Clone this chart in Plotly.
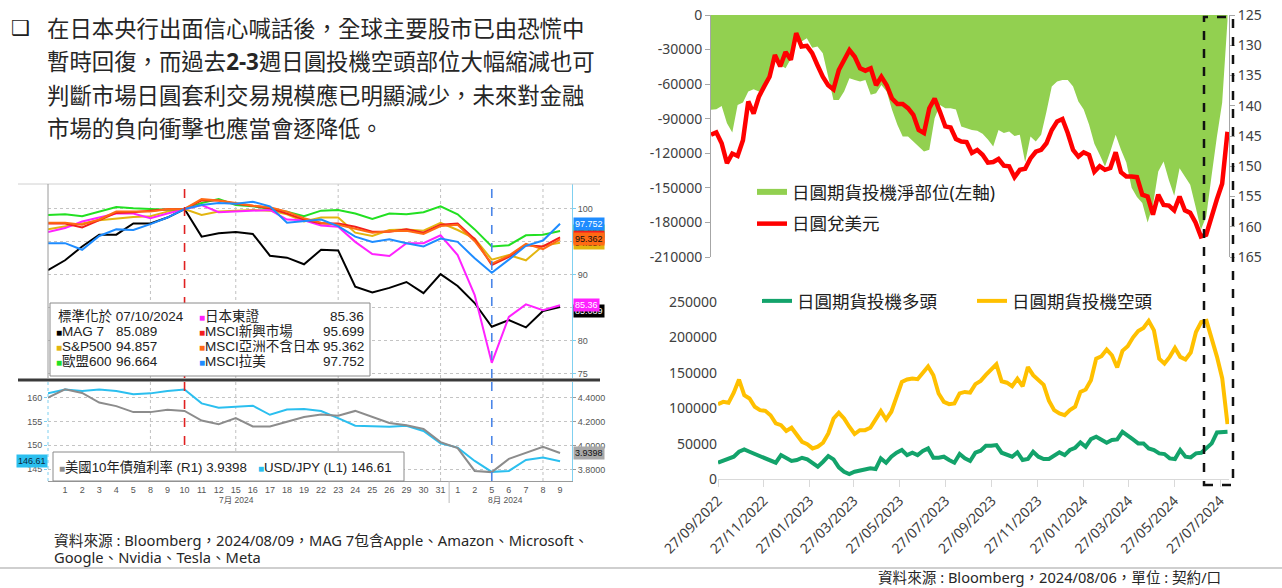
import pandas as pd
import plotly.graph_objects as go

W, H = 1282, 588


# pixel -> paper helpers
def px(x):
    return x / W


def py(y):
    return 1 - y / H


# ---------------- left panel: Bloomberg, normalised to 07/10/2024 ----------------
bbg_days = pd.bdate_range("2024-06-28", "2024-08-09")
bbg_idx = list(range(len(bbg_days)))

mag7 = [90.7, 92.2, 94.3, 96.1, 96.1, 97.8, 97.8, 98.7, 100.0, 95.8,
        96.3, 96.5, 96.2, 92.9, 92.6, 91.6, 93.8, 93.7, 88.2, 87.3,
        88.0, 88.9, 87.2, 90.1, 88.3, 85.7, 82.1, 83.1, 82.0, 84.5, 85.089]
sp500 = [96.9, 97.3, 97.8, 98.3, 98.6, 98.8, 98.9, 99.6, 100.0, 99.1,
         99.6, 99.75, 99.85, 99.75, 99.2, 98.1, 98.7, 98.7, 96.4, 95.9,
         96.8, 96.9, 96.7, 97.9, 96.8, 95.5, 92.3, 93.0, 92.2, 94.4, 94.857]
stoxx600 = [99.1, 99.2, 98.9, 99.6, 100.3, 100.1, 100.0, 99.9, 100.0, 100.9,
            101.5, 100.6, 100.4, 100.0, 99.6, 98.9, 99.75, 99.85, 99.3, 98.5,
            99.3, 99.2, 99.5, 100.4, 99.2, 96.9, 94.3, 94.5, 96.0, 96.1, 96.664]
topix = [96.5, 97.1, 98.1, 98.7, 99.3, 99.3, 98.6, 99.3, 100.0, 100.6,
         99.5, 99.6, 99.7, 99.85, 98.4, 98.3, 97.5, 97.3, 95.0, 93.15,
         92.85, 94.8, 94.8, 96.0, 93.0, 86.9, 76.6, 83.6, 85.5, 84.6, 85.36]
msci_em = [97.8, 97.8, 97.2, 98.3, 99.4, 99.5, 99.75, 99.95, 100.0, 101.3,
           101.3, 100.8, 100.5, 100.1, 99.3, 98.4, 97.8, 97.8, 97.3, 96.55,
           96.55, 96.9, 96.4, 97.6, 97.8, 95.4, 91.5, 92.7, 94.5, 94.3, 95.699]
msci_asia_xjp = [97.9, 97.9, 97.6, 98.4, 99.6, 99.6, 99.6, 99.95, 100.0, 101.5,
                 101.3, 100.9, 100.5, 100.25, 99.6, 98.6, 97.9, 97.6, 97.0, 96.4,
                 96.6, 96.7, 96.2, 97.4, 97.6, 95.1, 91.7, 92.9, 94.7, 93.9, 95.362]
msci_latam = [94.8, 94.8, 93.8, 95.9, 96.9, 96.8, 97.7, 98.7, 100.0, 100.6,
              100.9, 100.8, 101.1, 100.4, 97.9, 98.2, 98.4, 97.4, 95.8, 95.0,
              95.4, 94.8, 94.3, 95.5, 95.0, 92.5, 90.3, 92.3, 94.4, 95.2, 97.752]
ust10y = [4.40, 4.47, 4.44, 4.36, 4.33, 4.28, 4.28, 4.30, 4.29, 4.21,
          4.18, 4.23, 4.16, 4.16, 4.20, 4.24, 4.26, 4.25, 4.29, 4.24,
          4.19, 4.17, 4.14, 4.03, 3.98, 3.79, 3.78, 3.89, 3.94, 3.99, 3.9398]
usdjpy_daily = [160.9, 161.7, 161.4, 161.7, 161.4, 160.7, 160.9, 161.4, 161.7, 158.8,
                157.9, 158.1, 158.3, 156.4, 157.5, 157.6, 157.2, 155.7, 154.1, 154.0,
                153.9, 154.1, 153.0, 150.4, 149.5, 146.7, 144.4, 144.6, 146.9, 147.4, 146.61]

# ---------------- right panels: CFTC yen speculative positions (weekly) ----------------
cftc_dates = pd.date_range("2022-09-27", "2024-08-06", freq="7D")

net_pos = [-82300, -81800, -78900, -93900, -102000, -78000, -76000, -66400, -64400, -66400,
           -62000, -55500, -40000, -43300, -46200, -38000, -23100, -23100, -20200, -28500,
           -27400, -33200, -53400, -73700, -73700, -66400, -54900, -56300, -57800, -56300,
           -69300, -67900, -60700, -66400, -82300, -95300, -105400, -105400, -109800, -114100,
           -118500, -117000, -89600, -78000, -80900, -81000, -82000, -96800, -98200, -99700,
           -100500, -103000, -108000, -114100, -99700, -102500, -101100, -104900, -104000, -127700,
           -105400, -109800, -104000, -84000, -62000, -57800, -56300, -56300, -62000, -75000,
           -82000, -95000, -111800, -121300, -131400, -118400, -104000, -117000, -128000, -150000,
           -158000, -163200, -180000, -165000, -135800, -127100, -143400, -156800, -132900, -140100,
           -147300, -166100, -186300, -175000, -140000, -106000, -76200, -5000]
usdjpy_weekly = [144.8, 144.4, 146.2, 149.5, 147.9, 148.3, 145.7, 139.3, 141.3, 138.5,
                 136.8, 135.2, 131.6, 133.5, 131.1, 132.4, 128.0, 130.2, 130.1, 131.3,
                 133.3, 135.2, 136.6, 137.3, 134.1, 132.4, 130.8, 131.9, 133.8, 134.2,
                 133.8, 136.6, 135.2, 136.6, 138.8, 139.7, 139.7, 140.4, 141.5, 144.0,
                 144.5, 140.4, 138.8, 141.0, 143.4, 143.6, 145.5, 145.9, 146.0, 147.8,
                 147.3, 148.1, 149.4, 149.3, 148.8, 149.9, 150.0, 151.8, 150.6, 150.4,
                 148.7, 147.6, 147.3, 146.2, 144.0, 142.6, 142.2, 144.5, 147.3, 148.4,
                 147.7, 148.1, 150.9, 150.0, 150.6, 150.3, 147.7, 151.0, 151.7, 151.7,
                 151.8, 154.7, 155.0, 158.0, 154.7, 156.4, 156.5, 157.3, 155.0, 157.3,
                 157.7, 159.3, 161.6, 161.3, 158.2, 155.5, 152.9, 144.3]
long_pos = [23000, 26000, 30000, 31500, 38500, 41800, 38500, 35250, 32400, 29100,
            25850, 23000, 33800, 29100, 25400, 26800, 30000, 27700, 22100, 17400,
            24400, 32400, 27700, 16500, 10300, 7000, 10300, 11750, 12700, 15000,
            14100, 29100, 23000, 31500, 37100, 40900, 33800, 37100, 33800, 39500,
            43200, 30000, 30000, 31500, 26800, 23000, 35250, 29100, 25400, 37100,
            40000, 47000, 47000, 47900, 37100, 33800, 31500, 37600, 26800, 28200,
            38500, 31500, 28200, 28200, 32400, 37600, 33800, 40900, 44200, 51700,
            45600, 56400, 59700, 55900, 51200, 55000, 55900, 66700, 62000, 55900,
            50300, 50300, 43200, 40900, 36200, 35250, 29100, 28200, 40900, 31500,
            30500, 36200, 37100, 43200, 50300, 65800, 65800, 66700]
short_pos = [105750, 109000, 107600, 122000, 140500, 118400, 113700, 102000, 97300, 96300,
             90000, 78500, 76000, 68000, 72400, 62000, 52600, 49300, 43200, 45600,
             51200, 64400, 85500, 93500, 85500, 73800, 63500, 69000, 69000, 72400,
             83200, 95900, 84100, 95000, 116000, 137000, 140500, 142000, 141000, 151000,
             159000, 146600, 120800, 109000, 105750, 106700, 121000, 123000, 122000, 134000,
             138600, 147000, 155000, 162000, 138000, 136000, 131000, 141500, 131000, 158000,
             146600, 140500, 133000, 110500, 97300, 92600, 90200, 97300, 102000, 123000,
             126400, 139600, 170000, 173400, 182800, 174800, 157500, 181000, 187500, 199800,
             209000, 213400, 223300, 210000, 170000, 163000, 172500, 185000, 172500, 168700,
             178600, 207700, 221800, 223300, 198300, 172500, 142000, 77500]

net_ticks = [0, -30000, -60000, -90000, -120000, -150000, -180000, -210000]
pos_ticks = [0, 50000, 100000, 150000, 200000, 250000]
bbg_ticks = [75, 80, 85, 90, 95, 100]

body_text = [
    "在日本央行出面信心喊話後，全球主要股市已由恐慌中",
    "暫時回復，而過去<b>2-3</b>週日圓投機空頭部位大幅縮減也可",
    "判斷市場日圓套利交易規模應已明顯減少，未來對金融",
    "市場的負向衝擊也應當會逐降低。",
]

CJK = "Noto Sans, Noto Sans CJK TC"
BBG = "Liberation Sans, Noto Sans CJK TC"
bbg_tick = dict(family=BBG, size=9, color="#555555")
xl_tick = dict(family=CJK, size=14, color="#404040")

# label, series, colour
bbg_series = [
    ("MAG 7", mag7, "#000000"),
    ("S&P500", sp500, "#E3B50F"),
    ("歐盟600", stoxx600, "#22E022"),
    ("日本東證", topix, "#FF22FF"),
    ("MSCI新興市場", msci_em, "#F21D1D"),
    ("MSCI亞洲不含日本", msci_asia_xjp, "#FF6A14"),
    ("MSCI拉美", msci_latam, "#1E8CFF"),
]
colors = {name: c for name, _, c in bbg_series}

fig = go.Figure()

for name, vals, color in bbg_series:
    fig.add_trace(go.Scatter(x=bbg_idx, y=vals, mode="lines", name=name,
                             line=dict(color=color, width=2),
                             xaxis="x", yaxis="y", showlegend=False))

fig.add_trace(go.Scatter(x=bbg_idx, y=ust10y, mode="lines", name="美國10年債殖利率",
                         line=dict(color="#8C8C8C", width=2),
                         xaxis="x2", yaxis="y3", showlegend=False))
fig.add_trace(go.Scatter(x=bbg_idx, y=usdjpy_daily, mode="lines", name="USD/JPY",
                         line=dict(color="#2BBFEF", width=2),
                         xaxis="x2", yaxis="y2", showlegend=False))

fig.add_trace(go.Scatter(x=cftc_dates, y=net_pos, mode="none", fill="tozeroy",
                         fillcolor="#92D050", name="日圓期貨投機淨部位(左軸)",
                         xaxis="x3", yaxis="y4", legend="legend", legendgroup="a"))
fig.add_trace(go.Scatter(x=cftc_dates, y=usdjpy_weekly, mode="lines",
                         line=dict(color="#FF0000", width=4.5), name="日圓兌美元",
                         xaxis="x3", yaxis="y5", legend="legend", legendgroup="b"))

fig.add_trace(go.Scatter(x=cftc_dates, y=long_pos, mode="lines",
                         line=dict(color="#13A36B", width=4), name="日圓期貨投機多頭",
                         xaxis="x4", yaxis="y6", legend="legend2"))
fig.add_trace(go.Scatter(x=cftc_dates, y=short_pos, mode="lines",
                         line=dict(color="#FFC000", width=4), name="日圓期貨投機空頭",
                         xaxis="x4", yaxis="y6", legend="legend2"))

# ---------------- shapes ----------------
shapes = []


def hline(y, x0, x1, color, width, dash="solid"):
    shapes.append(dict(type="line", xref="paper", yref="paper", x0=px(x0), x1=px(x1),
                       y0=py(y), y1=py(y), line=dict(color=color, width=width, dash=dash),
                       layer="above"))


def vline(x, y0, y1, color, width, dash="solid"):
    shapes.append(dict(type="line", xref="paper", yref="paper", x0=px(x), x1=px(x),
                       y0=py(y0), y1=py(y1), line=dict(color=color, width=width, dash=dash),
                       layer="above"))


hline(184, 18, 600, "#D0D0D0", 1)
hline(380, 18, 600, "#3A3A3A", 3)
vline(48, 184, 378, "#9A9A9A", 1)
vline(48, 382, 481, "#7FD0F0", 1, "dot")
hline(568, 0, 1282, "#BFBFBF", 1.5)

# bloomberg vertical gridlines and event markers
for i in [6, 11, 17, 23, 29]:
    for xr, yr in [("x", "y domain"), ("x2", "y2 domain")]:
        shapes.append(dict(type="line", xref=xr, yref=yr, x0=i, x1=i, y0=0, y1=1,
                           line=dict(color="#C0C0C0", width=1, dash="dot"), layer="below"))
for i, c in [(8, "#E02020"), (26, "#4A86E8")]:
    for xr, yr in [("x", "y domain"), ("x2", "y2 domain")]:
        shapes.append(dict(type="line", xref=xr, yref=yr, x0=i, x1=i, y0=0, y1=1,
                           line=dict(color=c, width=1.6, dash="dash"), layer="above"))
shapes.append(dict(type="line", xref="x2", yref="paper", x0=23.5, x1=23.5,
                   y0=py(481), y1=py(503), line=dict(color="#BBBBBB", width=1)))

# legend boxes of the bloomberg panel
shapes.append(dict(type="rect", xref="paper", yref="paper", x0=px(50), x1=px(370),
                   y0=py(376), y1=py(303), fillcolor="white",
                   line=dict(color="#8A8A8A", width=1), layer="above"))
shapes.append(dict(type="rect", xref="paper", yref="paper", x0=px(53), x1=px(404),
                   y0=py(481), y1=py(452), fillcolor="white",
                   line=dict(color="#8A8A8A", width=1), layer="above"))

# dashed highlight box (last weeks)
shapes.append(dict(type="rect", xref="paper", yref="paper", x0=px(1204), x1=px(1233),
                   y0=py(485), y1=py(17), line=dict(color="#111111", width=2.5, dash="dash"),
                   fillcolor="rgba(0,0,0,0)", layer="above"))

# ---------------- annotations ----------------
anns = []


def text(x, y, t, size, color="#262626", xanchor="left", family=CJK, **kw):
    anns.append(dict(xref="paper", yref="paper", x=px(x), y=py(y), text=t, showarrow=False,
                     xanchor=xanchor, yanchor="middle",
                     font=dict(family=family, size=size, color=color), **kw))


text(9, 28, "<b>❑</b>", 21, "#202020", family="DejaVu Sans")
for n, line in enumerate(body_text):
    text(45, 28 + n * 33.5, line, 22.4)

text(52, 540, "資料來源 : Bloomberg，2024/08/09，MAG 7包含Apple、Amazon、Microsoft、", 14.7)
text(52, 557, "Google、Nvidia、Tesla、Meta", 14.7)
text(876, 577, "資料來源 : Bloomberg，2024/08/06，單位 : 契約/口", 14.6)


def sq(c):
    return f"<span style='color:{c};font-size:10px'>■</span>"


text(56, 316, "標準化於 07/10/2024", 13.5, "#222", family=BBG)
left_col = [("MAG 7", mag7), ("S&P500", sp500), ("歐盟600", stoxx600)]
for r, (name, vals) in enumerate(left_col):
    yy = 331 + r * 15
    text(54, yy, sq(colors[name]) + name, 13.5, "#222", family=BBG)
    text(114, yy, f"{vals[-1]:.3f}", 13.5, "#222", family=BBG)
right_col = [("日本東證", topix, 2), ("MSCI新興市場", msci_em, 3),
             ("MSCI亞洲不含日本", msci_asia_xjp, 3), ("MSCI拉美", msci_latam, 3)]
for r, (name, vals, d) in enumerate(right_col):
    yy = 316 + r * 15
    text(197, yy, sq(colors[name]) + name, 13.5, "#222", family=BBG)
    text(366, yy, f"{vals[-1]:.{d}f}", 13.5, "#222", xanchor="right", family=BBG)

text(57, 467, sq("#8C8C8C") + f"美國10年債殖利率 (R1) {ust10y[-1]:.4f}   "
     + sq("#2BBFEF") + f"USD/JPY (L1) {usdjpy_daily[-1]:.2f}", 13.3, "#222", family=BBG)

text(236, 500, "7月 2024", 8.5, "#555", xanchor="center", family=BBG)
text(505, 500, "8月 2024", 8.5, "#555", xanchor="center", family=BBG)


# last-value tags on the bloomberg axes
def tag(yref, val, label, bg, fg, side="right"):
    anns.append(dict(xref="paper", yref=yref, x=px(573) if side == "right" else px(48),
                     y=val, text=label, showarrow=False,
                     xanchor="left" if side == "right" else "right", yanchor="middle",
                     bgcolor=bg, borderpad=1,
                     font=dict(family=BBG, size=9, color=fg)))


tag("y", stoxx600[-1], f"{stoxx600[-1]:.3f}", colors["歐盟600"], "#111")
tag("y", sp500[-1], f"{sp500[-1]:.3f}", colors["S&P500"], "#111")
tag("y", msci_em[-1], f"{msci_em[-1]:.3f}", colors["MSCI新興市場"], "#111")
tag("y", msci_asia_xjp[-1], f"{msci_asia_xjp[-1]:.3f}", colors["MSCI亞洲不含日本"], "#111")
tag("y", msci_latam[-1], f"{msci_latam[-1]:.3f}", colors["MSCI拉美"], "white")
tag("y", mag7[-1] - 0.6, f"{mag7[-1]:.3f}", "#000000", "white")
tag("y", topix[-1], f"{topix[-1]:.2f}", colors["日本東證"], "white")
tag("y3", ust10y[-1], f"{ust10y[-1]:.4f}", "#A8A8A8", "#111")
tag("y2", usdjpy_daily[-1], f"{usdjpy_daily[-1]:.2f}", "#2BBFEF", "#0A2A40", side="left")

fig.update_layout(
    width=W, height=H,
    margin=dict(l=0, r=0, t=0, b=0, autoexpand=False),
    paper_bgcolor="white", plot_bgcolor="white",
    font=dict(family=CJK, color="#262626"),
    shapes=shapes, annotations=anns,
    hovermode=False,
    # bloomberg upper panel (85 / 95 labels sit under the value tags)
    xaxis=dict(domain=[px(48), px(572)], range=[0, 30.7], anchor="y",
               showticklabels=False, showgrid=False, zeroline=False),
    yaxis=dict(domain=[py(378), py(184)], range=[74.3, 103.8], anchor="x", side="right",
               tickvals=bbg_ticks,
               ticktext=["" if v in (85, 95) else str(v) for v in bbg_ticks],
               showgrid=True, gridcolor="#C4C4C4",
               griddash="dot", zeroline=False, ticks="outside", ticklen=3,
               tickcolor="#7FD0F0", showline=True, linecolor="#7FD0F0", tickfont=bbg_tick),
    # bloomberg lower panel
    xaxis2=dict(domain=[px(48), px(572)], range=[0, 30.7], anchor="y2",
                tickvals=bbg_idx[1:], ticktext=[str(d.day) for d in bbg_days[1:]],
                tickfont=bbg_tick, showgrid=False, zeroline=False, showline=True,
                linecolor="#9A9A9A", ticks=""),
    yaxis2=dict(domain=[py(481), py(382)], range=[142.48, 163.29], anchor="x2",
                tickvals=[145, 150, 155, 160], showgrid=True, gridcolor="#C4C4C4",
                griddash="dot", zeroline=False, ticks="outside", ticklen=3,
                tickcolor="#7FD0F0", tickfont=bbg_tick),
    yaxis3=dict(overlaying="y2", anchor="x2", side="right", range=[3.706, 4.531],
                tickvals=[3.8, 4.0, 4.2, 4.4],
                ticktext=[f"{v:.4f}" for v in [3.8, 4.0, 4.2, 4.4]],
                showgrid=False, zeroline=False, ticks="outside", ticklen=3,
                tickcolor="#9A9A9A", showline=True, linecolor="#7FD0F0", tickfont=bbg_tick),
    # net position + USD/JPY
    xaxis3=dict(domain=[px(711), px(1229)], range=["2022-09-27", "2024-08-08"],
                anchor="y4", visible=False),
    yaxis4=dict(domain=[py(257), py(15)], range=[-210000, 0], anchor="x3",
                tickvals=net_ticks, ticktext=[str(v) for v in net_ticks],
                showgrid=False, zeroline=False, ticks="outside", ticklen=5,
                tickcolor="#A6A6A6", showline=True, linecolor="#A6A6A6", tickfont=xl_tick),
    yaxis5=dict(overlaying="y4", anchor="x3", side="right", range=[165, 125],
                tickvals=list(range(125, 170, 5)), showgrid=False, zeroline=False,
                ticks="outside", ticklen=5, tickcolor="#A6A6A6", showline=True,
                linecolor="#A6A6A6", tickfont=xl_tick),
    # long / short
    xaxis4=dict(domain=[px(718), px(1229)], range=["2022-09-27", "2024-08-08"],
                anchor="y6", type="date", tick0="2022-09-27", dtick="M2",
                tickformat="%d/%m/%Y", tickangle=-45, ticks="outside", ticklen=7,
                tickcolor="#D9D9D9", showline=True, linecolor="#D9D9D9",
                showgrid=False, tickfont=xl_tick),
    yaxis6=dict(domain=[py(479), py(302)], range=[0, 250000], anchor="x4",
                tickvals=pos_ticks, ticktext=[str(v) for v in pos_ticks],
                showgrid=False, zeroline=False, tickfont=xl_tick),
    legend=dict(x=px(752), y=py(174), xanchor="left", yanchor="top",
                bgcolor="rgba(0,0,0,0)", font=dict(family=CJK, size=17.5, color="#202020"),
                tracegroupgap=6),
    legend2=dict(x=px(757), y=py(283), xanchor="left", yanchor="top", orientation="h",
                 entrywidth=170, entrywidthmode="pixels",
                 bgcolor="rgba(0,0,0,0)", font=dict(family=CJK, size=17.5, color="#202020")),
)

fig.write_html("out.html", config={"displayModeBar": False},
               post_script="document.body.style.margin='0';")
